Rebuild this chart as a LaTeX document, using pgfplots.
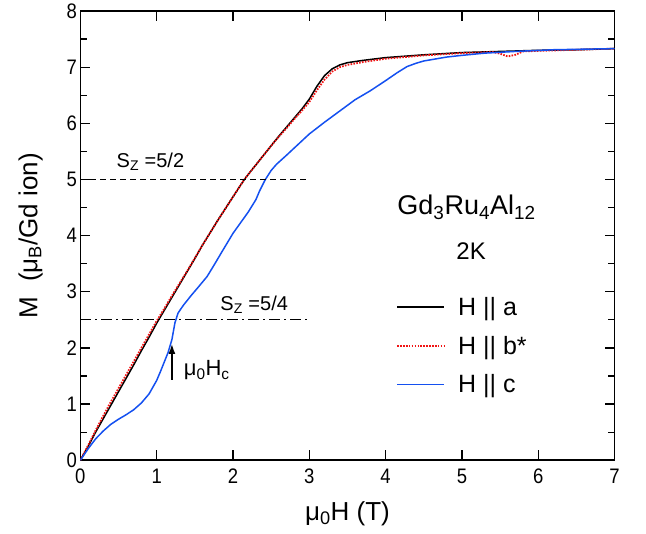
\documentclass[border=0pt]{standalone}
\usepackage{fontspec}
\setmainfont{Liberation Sans}
\newfontfamily\narrowfont[FakeStretch=0.88]{Liberation Sans}
\usepackage{pgfplots}
\pgfplotsset{compat=1.18}
\usetikzlibrary{arrows.meta}

% M(H) at 2 K, three field directions
\pgfplotstableread{
x y
0 0
0.1 0.24
0.2 0.50
0.3 0.74
0.4 0.98
0.5 1.22
0.6 1.46
0.7 1.70
0.8 1.95
0.9 2.19
1.0 2.44
1.1 2.67
1.2 2.90
1.3 3.13
1.4 3.36
1.5 3.59
1.6 3.83
1.7 4.05
1.8 4.27
1.9 4.48
2.0 4.69
2.1 4.90
2.15 5.00
2.2 5.09
2.3 5.26
2.4 5.43
2.5 5.60
2.6 5.77
2.7 5.93
2.8 6.09
2.9 6.25
3.0 6.43
3.1 6.66
3.2 6.85
3.3 6.97
3.4 7.04
3.5 7.08
3.7 7.12
4.0 7.17
4.5 7.22
5.0 7.26
5.5 7.28
6.0 7.30
6.5 7.31
7.0 7.33
}\dataA
\pgfplotstableread{
x y
0 0
0.1 0.26
0.2 0.53
0.3 0.79
0.4 1.04
0.5 1.28
0.6 1.52
0.7 1.76
0.8 2.00
0.9 2.24
1.0 2.48
1.1 2.70
1.2 2.93
1.3 3.15
1.4 3.37
1.5 3.60
1.6 3.83
1.7 4.05
1.8 4.27
1.9 4.48
2.0 4.69
2.1 4.90
2.15 5.00
2.2 5.09
2.3 5.26
2.4 5.43
2.5 5.60
2.6 5.76
2.7 5.91
2.8 6.07
2.9 6.22
3.0 6.38
3.1 6.59
3.2 6.78
3.3 6.92
3.4 7.00
3.5 7.04
3.7 7.09
4.0 7.15
4.5 7.21
5.0 7.25
5.4 7.27
5.5 7.24
5.6 7.19
5.7 7.22
5.8 7.28
6.0 7.29
6.5 7.31
7.0 7.33
}\dataB
\pgfplotstableread{
x y
0 0
0.1 0.20
0.2 0.38
0.3 0.52
0.4 0.64
0.5 0.73
0.6 0.81
0.7 0.90
0.8 1.02
0.9 1.18
1.0 1.42
1.05 1.58
1.1 1.75
1.15 1.92
1.2 2.15
1.24 2.45
1.28 2.62
1.35 2.76
1.45 2.93
1.55 3.09
1.66 3.27
1.75 3.47
1.85 3.70
2.0 4.04
2.1 4.23
2.2 4.42
2.3 4.64
2.35 4.80
2.42 4.99
2.5 5.16
2.57 5.27
2.7 5.43
2.85 5.62
3.0 5.81
3.2 6.02
3.4 6.22
3.6 6.42
3.8 6.58
4.0 6.76
4.15 6.90
4.28 7.01
4.4 7.07
4.5 7.11
4.8 7.18
5.0 7.21
5.3 7.25
5.7 7.28
6.2 7.31
7.0 7.33
}\dataC

\definecolor{cblue}{RGB}{20,80,240}
\definecolor{cred}{RGB}{240,20,20}

\begin{document}
\begin{tikzpicture}
\begin{axis}[
    scale only axis,
    width=534pt, height=449pt,
    xmin=0, xmax=7, ymin=0, ymax=8,
    xtick={0,1,...,7}, ytick={0,1,...,8},
    minor y tick num=1,
    tick align=inside,
    major tick length=10pt, minor tick length=7pt,
    every tick/.style={black, line width=1.2pt},
    axis line style={line width=1.6pt},
    /pgf/number format/assume math mode=true,
    tick label style={font=\narrowfont\fontsize{21}{24}\selectfont},
    xticklabel style={yshift=-5pt},
    xlabel={μ\textsubscript{0}H (T)},
    ylabel={M \ (μ\textsubscript{B}/Gd ion)},
    label style={font=\fontsize{26}{30}\selectfont},
    xlabel style={at={(axis description cs:0.5,-0.1336)}, anchor=base},
    ylabel style={at={(axis description cs:-0.0805,0.5)}, anchor=base},
    legend style={at={(axis cs:4.14,2.935)}, anchor=north west, draw=none, fill=none,
        inner sep=0pt, outer sep=0pt,
        font=\fontsize{25}{28}\selectfont, row sep=15pt,
        /tikz/every odd column/.append style={column sep=11pt}},
    legend cell align=left,
    legend image code/.code={\draw[#1] (0pt,0pt) -- (47pt,0pt);},
]
\addplot[black, line width=1.5pt] table {\dataA};
\addlegendentry{H || a}
\addplot[cred, dash pattern=on 1.6pt off 1.3pt, line width=1.8pt] table {\dataB};
\addlegendentry{H || b*}
\addplot[cblue, line width=1.5pt] table {\dataC};
\addlegendentry{H || c}

\addplot[black, dash pattern=on 6pt off 4pt, line width=0.9pt, forget plot] coordinates {(0,5) (3,5)};
\addplot[black, dash pattern=on 11pt off 4pt on 2pt off 4pt, line width=0.9pt, forget plot] coordinates {(0,2.5) (3,2.5)};

\node[anchor=base west, font=\fontsize{20}{22}\selectfont] at (axis cs:0.43,5.22) {S\textsubscript{Z} =5/2};
\node[anchor=base west, font=\fontsize{20}{22}\selectfont] at (axis cs:1.79,2.67) {S\textsubscript{Z} =5/4};
\draw[-{Latex[length=10pt,width=7pt]}, line width=1.4pt] (axis cs:1.2,1.43) -- (axis cs:1.2,2.07);
\node[anchor=base west, font=\fontsize{22}{26}\selectfont] at (axis cs:1.31,1.50) {μ\textsubscript{0}H\textsubscript{c}};
\node[anchor=base, font=\fontsize{27}{30}\selectfont] at (axis cs:5.06,4.37) {Gd\textsubscript{3}Ru\textsubscript{4}Al\textsubscript{12}};
\node[anchor=base, font=\fontsize{24}{28}\selectfont] at (axis cs:5.12,3.57) {2K};
\end{axis}
\path ([shift={(-80.3pt,-73pt)}]current axis.south west) rectangle ([shift={(31.4pt,11pt)}]current axis.north east);
\end{tikzpicture}
\end{document}
